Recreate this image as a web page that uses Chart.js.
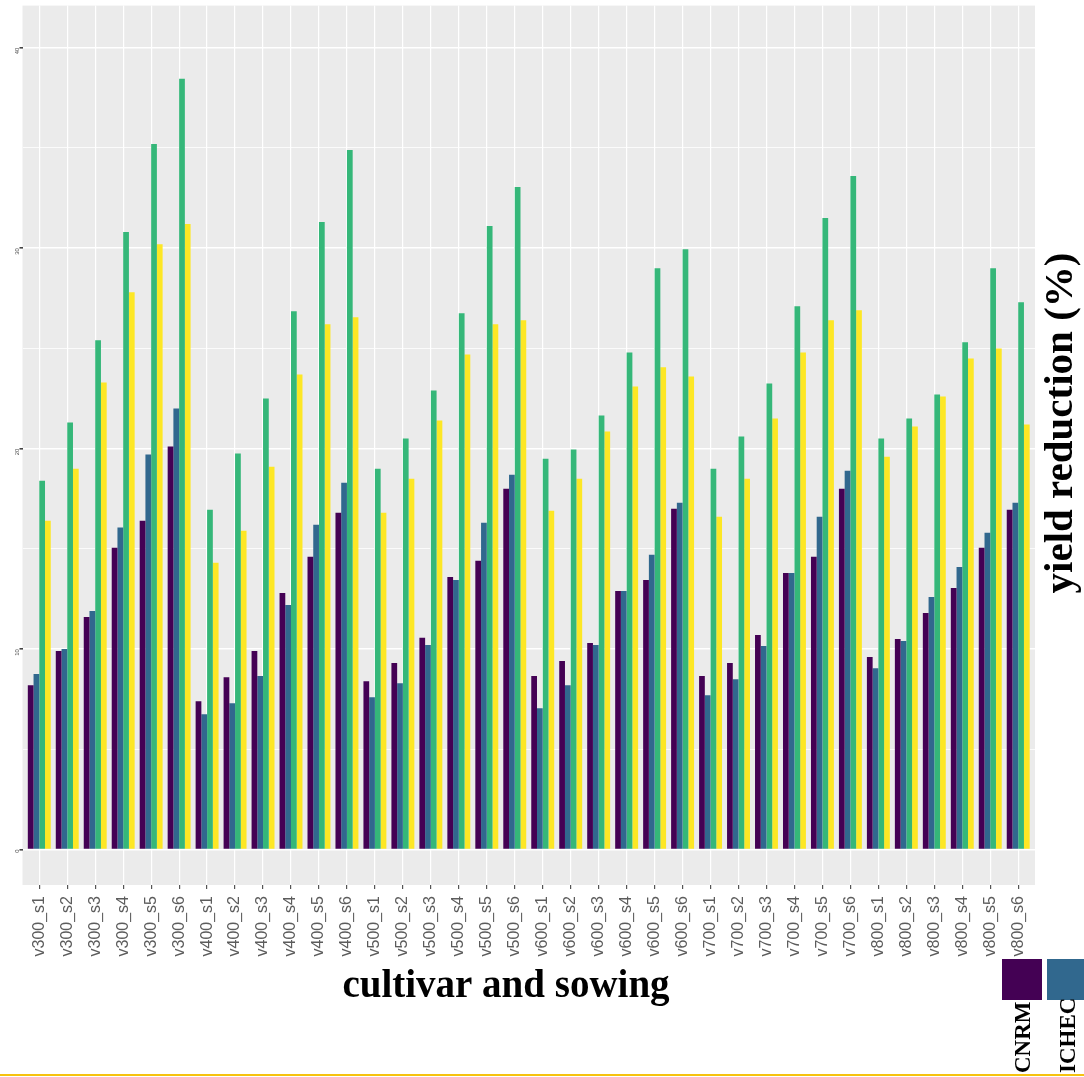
<!DOCTYPE html>
<html><head><meta charset="utf-8">
<script src="https://cdn.jsdelivr.net/npm/chart.js@4.4.1/dist/chart.umd.min.js"></script>
<style>html,body{margin:0;padding:0;background:#fff;overflow:hidden}#wrap{position:relative;width:1084px;height:1077px}</style>
</head><body><div id="wrap"><canvas id="c" width="1084" height="1077"></canvas></div>
<script>
const categories = [
  'v300_s1','v300_s2','v300_s3','v300_s4','v300_s5','v300_s6',
  'v400_s1','v400_s2','v400_s3','v400_s4','v400_s5','v400_s6',
  'v500_s1','v500_s2','v500_s3','v500_s4','v500_s5','v500_s6',
  'v600_s1','v600_s2','v600_s3','v600_s4','v600_s5','v600_s6',
  'v700_s1','v700_s2','v700_s3','v700_s4','v700_s5','v700_s6',
  'v800_s1','v800_s2','v800_s3','v800_s4','v800_s5','v800_s6'
];
const seriesNames = ['CNRM', 'ICHEC', 'model 3', 'model 4'];
const cnrm = [
  8.2, 9.9, 11.6, 15.05, 16.4, 20.1,
  7.4, 8.6, 9.9, 12.8, 14.6, 16.8,
  8.4, 9.3, 10.56, 13.6, 14.4, 18.0,
  8.65, 9.4, 10.3, 12.9, 13.45, 17.0,
  8.65, 9.3, 10.7, 13.8, 14.6, 18.0,
  9.6, 10.5, 11.8, 13.05, 15.05, 16.95
];
const ichec = [
  8.76, 10.0, 11.9, 16.07, 19.7, 22.0,
  6.75, 7.3, 8.65, 12.2, 16.2, 18.3,
  7.6, 8.3, 10.2, 13.45, 16.3, 18.7,
  7.05, 8.2, 10.2, 12.9, 14.7, 17.3,
  7.7, 8.5, 10.15, 13.8, 16.6, 18.9,
  9.04, 10.4, 12.6, 14.1, 15.8, 17.3
];
const model3 = [
  18.4, 21.3, 25.4, 30.8, 35.2, 38.45,
  16.95, 19.75, 22.5, 26.85, 31.3, 34.9,
  19.0, 20.5, 22.9, 26.75, 31.1, 33.05,
  19.5, 19.95, 21.65, 24.8, 29.0, 29.95,
  19.0, 20.6, 23.25, 27.1, 31.5, 33.6,
  20.5, 21.5, 22.7, 25.3, 29.0, 27.3
];
const model4 = [
  16.4, 19.0, 23.3, 27.8, 30.2, 31.2,
  14.3, 15.9, 19.1, 23.7, 26.2, 26.55,
  16.8, 18.5, 21.4, 24.7, 26.2, 26.4,
  16.9, 18.5, 20.85, 23.1, 24.06, 23.6,
  16.6, 18.5, 21.5, 24.8, 26.4, 26.9,
  19.6, 21.1, 22.6, 24.5, 25.0, 21.2
];
const yTickValues = [0, 5, 10, 15, 20, 25, 30, 35, 40];
const yTickLabels = ['0', '', '10', '', '20', '', '30', '', '40'];
const xTitle = 'cultivar and sowing';
const yTitle = 'yield reduction (%)';

const colors = ['#440154', '#31688E', '#35B779', '#FDE725'];
const seriesValues = [cnrm, ichec, model3, model4];

const datasets = seriesValues.map((vals, k) => ({
  label: seriesNames[k],
  data: vals.map((v, i) => ({ x: i, y: v })),
  backgroundColor: colors[k],
  borderWidth: 0,
  categoryPercentage: 0.82,
  barPercentage: 1.0
}));

const SERIF = '"Liberation Serif", "Times New Roman", serif';

const decor = {
  id: 'decor',
  beforeDraw(chart) {
    const { ctx, chartArea: a } = chart;
    ctx.save();
    ctx.fillStyle = '#EBEBEB';
    ctx.fillRect(a.left, a.top, a.right - a.left, a.bottom - a.top);
    ctx.restore();
  },
  afterDraw(chart) {
    const { ctx } = chart;
    // x axis title
    ctx.save();
    ctx.fillStyle = '#000';
    ctx.font = 'bold 39px ' + SERIF;
    ctx.textAlign = 'center';
    ctx.textBaseline = 'alphabetic';
    ctx.fillText(xTitle, 506, 997);
    ctx.restore();

    // y axis title on the right, reading bottom to top
    ctx.save();
    ctx.fillStyle = '#000';
    ctx.font = 'bold 41px ' + SERIF;
    ctx.textAlign = 'center';
    ctx.textBaseline = 'alphabetic';
    ctx.translate(1072, 423);
    ctx.rotate(-Math.PI / 2);
    ctx.fillText(yTitle, 0, 0);
    ctx.restore();

    // legend (cropped at right edge)
    ctx.save();
    seriesNames.forEach((name, k) => {
      const x = 1002 + k * 45;
      ctx.fillStyle = colors[k];
      ctx.fillRect(x, 959, 40, 41);
      ctx.fillStyle = '#000';
      ctx.font = 'bold 23px ' + SERIF;
      ctx.textAlign = 'left';
      ctx.textBaseline = 'alphabetic';
      ctx.save();
      ctx.translate(x + 28, 1073);
      ctx.rotate(-Math.PI / 2);
      ctx.fillText(name, 0, 0);
      ctx.restore();
    });
    ctx.restore();

    // bottom yellow rule
    ctx.save();
    ctx.fillStyle = '#F6C20F';
    ctx.fillRect(0, 1074, 1084, 2);
    ctx.restore();
  }
};

new Chart(document.getElementById('c'), {
  type: 'bar',
  data: { datasets },
  plugins: [decor],
  options: {
    responsive: false,
    devicePixelRatio: 1,
    animation: false,
    layout: { padding: { top: 3, right: 49, left: 0, bottom: 0 } },
    plugins: { legend: { display: false }, tooltip: { enabled: false } },
    scales: {
      x: {
        type: 'linear',
        min: -0.6,
        max: 35.6,
        offset: false,
        afterBuildTicks: s => { s.ticks = categories.map((_, i) => ({ value: i })); },
        afterFit: s => { s.height = 1077 - 885; },
        border: { display: false },
        grid: { offset: false, color: '#FFFFFF', lineWidth: 1.2, drawTicks: true, tickLength: 4, tickColor: '#555' },
        ticks: {
          autoSkip: false, minRotation: 90, maxRotation: 90, padding: 7,
          color: '#5c5c5c',
          font: { family: '"Liberation Sans", Arial, sans-serif', size: 16 },
          callback: v => categories[v]
        }
      },
      y: {
        min: -1.77,
        max: 42.1,
        afterBuildTicks: s => { s.ticks = yTickValues.map(v => ({ value: v })); },
        afterFit: s => { s.width = 22.5; },
        border: { display: false },
        grid: {
          color: '#FFFFFF',
          lineWidth: c => (c.tick && c.tick.value % 10 === 0) ? 1.6 : 0.8,
          drawTicks: true, tickLength: 3,
          tickColor: c => (c.tick && c.tick.value % 10 === 0) ? '#444' : 'rgba(0,0,0,0)'
        },
        ticks: {
          minRotation: 90, maxRotation: 90, padding: 2,
          color: '#4d4d4d',
          font: { family: '"Liberation Sans", Arial, sans-serif', size: 6 },
          callback: (v, i) => yTickLabels[i]
        }
      }
    }
  }
});
</script>
</body></html>
